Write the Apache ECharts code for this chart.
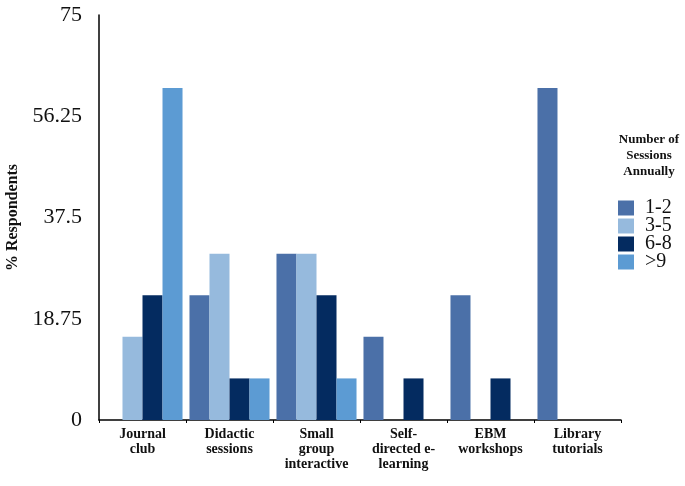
<!DOCTYPE html>
<html>
<head>
<meta charset="utf-8">
<script src="https://cdn.jsdelivr.net/npm/echarts@6/dist/echarts.min.js"></script>
<style>html,body{margin:0;padding:0;background:#fff}#c{width:685px;height:486px}</style>
</head>
<body>
<div id="c"></div>
<script>
const categories = ['Journal\nclub', 'Didactic\nsessions', 'Small\ngroup\ninteractive', 'Self-\ndirected e-\nlearning', 'EBM\nworkshops', 'Library\ntutorials'];
const seriesNames = ['1-2', '3-5', '6-8', '>9'];
const s12 = [0, 23.1, 30.8, 15.4, 23.1, 61.5];
const s35 = [15.4, 30.8, 30.8, 0, 0, 0];
const s68 = [23.1, 7.7, 23.1, 7.7, 7.7, 0];
const s9 = [61.5, 7.7, 7.7, 0, 0, 0];
const yTicks = [0, 18.75, 37.5, 56.25, 75];
const colors = ['#4b70a8', '#96badd', '#042b60', '#5c9bd3'];

const serif = '"Liberation Serif", "DejaVu Serif", serif';
const chart = echarts.init(document.getElementById('c'), null, {renderer: 'canvas'});
const values = [s12, s35, s68, s9];
chart.setOption({
  animation: false,
  grid: {left: 99, right: 64, top: 15, bottom: 66, containLabel: false, outerBoundsMode: 'none'},
  graphic: [{
    type: 'text', x: 649, y: 132,
    style: {text: 'Number of\nSessions\nAnnually', textAlign: 'center', fontFamily: serif, fontWeight: 'bold', fontSize: 13, lineHeight: 16, fill: '#111'}
  }],
  legend: {
    orient: 'vertical', left: 618, top: 198, padding: 0, itemWidth: 16, itemHeight: 15, itemGap: -2,
    icon: 'rect',
    textStyle: {fontFamily: serif, fontSize: 20, color: '#111', padding: [0, 0, 0, 6]},
    data: seriesNames
  },
  xAxis: {
    type: 'category', data: categories,
    axisLine: {lineStyle: {color: '#000', width: 1.5}},
    axisTick: {show: true, length: 3, lineStyle: {color: '#000'}},
    axisLabel: {fontFamily: serif, fontWeight: 'bold', fontSize: 14, lineHeight: 15, color: '#111', margin: 7, interval: 0}
  },
  yAxis: {
    type: 'value', min: yTicks[0], max: yTicks[yTicks.length - 1], interval: yTicks[1] - yTicks[0],
    name: '% Respondents', nameLocation: 'middle', nameGap: 78,
    nameTextStyle: {fontFamily: serif, fontWeight: 'bold', fontSize: 16, color: '#111'},
    axisLine: {show: true, lineStyle: {color: '#000', width: 1.5}},
    axisTick: {show: false},
    splitLine: {show: false},
    axisLabel: {fontFamily: serif, fontSize: 22, color: '#111', margin: 17}
  },
  series: seriesNames.map((n, i) => ({
    name: n, type: 'bar', data: values[i], barGap: '0%', barCategoryGap: '8%',
    itemStyle: {color: colors[i]}
  }))
});
</script>
</body>
</html>
